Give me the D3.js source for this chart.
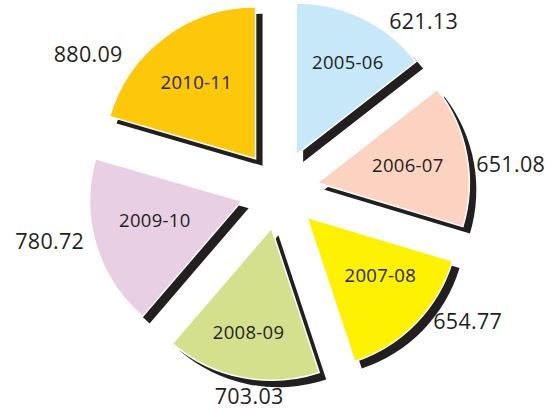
<!DOCTYPE html>
<html>
<head>
<meta charset="utf-8">
<script src="https://cdn.jsdelivr.net/npm/d3@7"></script>
<style>
  body { margin: 0; background: #fff; }
  text { font-family: "Open Sans", sans-serif; fill: #231f20; }
</style>
</head>
<body>
<div id="chart"></div>
<script>
// data
var years = ["2005-06", "2006-07", "2007-08", "2008-09", "2009-10", "2010-11"];
var values = [621.13, 651.08, 654.77, 703.03, 780.72, 880.09];
var valueLabels = ["621.13", "651.08", "654.77", "703.03", "780.72", "880.09"];
var colors = ["#c6e8f8", "#fcd3c1", "#fff200", "#d4e08c", "#e8cfe3", "#fec80a"];

// label placement: share along the slice and distance
// (year labels measured from the slice tip, value labels from the pie centre)
var yearPos = [0.56, 0.5, 0.4, 0.52, 0.56, 0.49];
var yearDist = [106, 92, 94, 107, 89, 97];
var labelPos = [0.78, 0.58, 0.33, 0.45, 0.56, 0.26];
var labelDist = [222, 233, 230, 209, 235, 234];

var width = 556,
    height = 411;

var cx = 279, cy = 190,
    radius = 152,
    explode = 39,
    shadowOff = 7;

var svg = d3.select("#chart").append("svg")
    .attr("width", width)
    .attr("height", height);

var pie = d3.pie()
    .sort(null)
    .value(function (d) { return d.value; });

var arc = d3.arc()
    .innerRadius(0)
    .outerRadius(radius);

var rows = years.map(function (y, i) {
    return {
        year: y, value: values[i], label: valueLabels[i], color: colors[i],
        ypos: yearPos[i], ydist: yearDist[i], pos: labelPos[i], dist: labelDist[i]
    };
});

var arcs = pie(rows);

var g = svg.append("g")
    .attr("transform", "translate(" + cx + "," + cy + ")");

function mid(d) { return (d.startAngle + d.endAngle) / 2; }
function along(d, t) { return d.startAngle + (d.endAngle - d.startAngle) * t; }

var slice = g.selectAll("g.slice")
    .data(arcs)
    .enter().append("g")
    .attr("class", "slice")
    .attr("transform", function (d) {
        var a = mid(d);
        return "translate(" + (explode * Math.sin(a)) + "," + (-explode * Math.cos(a)) + ")";
    });

// dark drop shadow
slice.append("path")
    .attr("d", arc)
    .attr("transform", "translate(" + shadowOff + "," + shadowOff + ")")
    .style("fill", "#231f20");

slice.append("path")
    .attr("d", arc)
    .style("fill", function (d) { return d.data.color; })
    .style("stroke", "#fff")
    .style("stroke-width", 1.5);

// year inside slice
slice.append("text")
    .attr("x", function (d) { return d.data.ydist * Math.sin(along(d, d.data.ypos)); })
    .attr("y", function (d) { return -d.data.ydist * Math.cos(along(d, d.data.ypos)); })
    .attr("dy", "0.35em")
    .attr("text-anchor", "middle")
    .style("font-size", "18.5px")
    .style("letter-spacing", "0.3px")
    .text(function (d) { return d.data.year; });

// value outside
g.selectAll("text.value")
    .data(arcs)
    .enter().append("text")
    .attr("class", "value")
    .attr("x", function (d) { return d.data.dist * Math.sin(along(d, d.data.pos)); })
    .attr("y", function (d) { return -d.data.dist * Math.cos(along(d, d.data.pos)); })
    .attr("dy", "0.35em")
    .attr("text-anchor", "middle")
    .style("font-size", "21.5px")
    .style("letter-spacing", "0.3px")
    .text(function (d) { return d.data.label; });
</script>
</body>
</html>
